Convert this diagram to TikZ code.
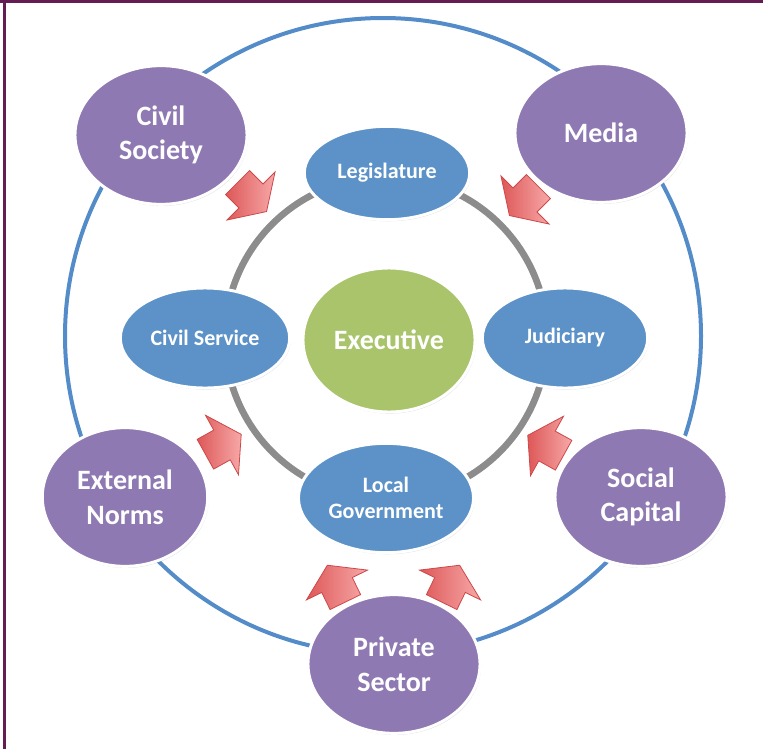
\documentclass[tikz,border=0pt]{standalone}
\usepackage{fontspec}
\setmainfont{Carlito}
\usetikzlibrary{
  shapes.geometric,
  shadows
}
\definecolor{framepurple}{RGB}{100,28,82}
\definecolor{actorfill}{RGB}{143,121,178}
\definecolor{branchfill}{RGB}{92,146,200}
\definecolor{execfill}{RGB}{169,196,107}
\definecolor{ringblue}{RGB}{84,140,201}
\definecolor{ringgray}{RGB}{140,140,140}
\definecolor{pushdark}{RGB}{222,88,88}
\definecolor{pushlight}{RGB}{247,168,168}
\definecolor{pushedge}{RGB}{205,72,72}

\begin{document}
\begin{tikzpicture}[x=0.75pt, y=-0.75pt,
    every node/.style = {shape=ellipse, draw=white, line width=2.2pt,
      text=white, align=center,
      drop shadow={shadow xshift=0.8pt, shadow yshift=-1.2pt, opacity=0.25}},
    actor/.style = {fill=actorfill, minimum width=129pt, minimum height=104pt,
      font=\fontsize{21}{26}\selectfont\bfseries},
    branch/.style = {fill=branchfill, minimum width=124pt, minimum height=72pt,
      font=\fontsize{16.5}{20}\selectfont\bfseries},
    pics/push/.style = {code={
      \draw[draw=pushedge, line width=0.6pt, left color=pushdark, right color=pushlight]
        (22,0) -- (0,-34) -- (0,-17) -- (-19,-17) -- (-19,17) -- (0,17) -- (0,34) -- cycle;}}]
  \useasboundingbox (0,0) rectangle (763,749);
  \fill[framepurple] (0,0) rectangle (763,3.5);
  \fill[framepurple] (3,0) rectangle (6,749);

  \coordinate (outer) at (383,336);
  \coordinate (inner) at (386,338);
  \draw[ringblue, line width=3pt] (outer) circle[radius=318];
  \draw[ringgray, line width=5pt] (inner) circle[radius=161];

  \pic[rotate=-45] at (251,196) {push};
  \pic[rotate=-135] at (525,200) {push};
  \pic[rotate=29] at (222,445) {push};
  \pic[rotate=151] at (547,446) {push};
  \pic[rotate=116] at (337,585) {push};
  \pic[rotate=64] at (450,585) {push};

  \node[branch, minimum height=70pt] (leg) at (387,173) {Legislature};
  \node[branch, minimum width=127pt, minimum height=75pt] (civ) at (205,338) {Civil Service};
  \node[branch, minimum height=75pt] (jud) at (565,338) {Judiciary};
  \node[branch, minimum width=129pt, minimum height=82pt] (loc) at (386,498) {Local\\Government};
  \node[fill=execfill, minimum width=129pt, minimum height=108pt,
    font=\fontsize{21}{25}\selectfont\bfseries] (exe) at (389,340) {Executive};

  \node[actor] (soc) at (161,135) {Civil\\Society};
  \node[actor] (med) at (601,133) {Media};
  \node[actor, minimum width=124pt] (ext) at (125,497) {External\\Norms};
  \node[actor] (cap) at (641,497) {Social\\Capital};
  \node[actor] (prv) at (394,664) {Private\\Sector};
\end{tikzpicture}
\end{document}
